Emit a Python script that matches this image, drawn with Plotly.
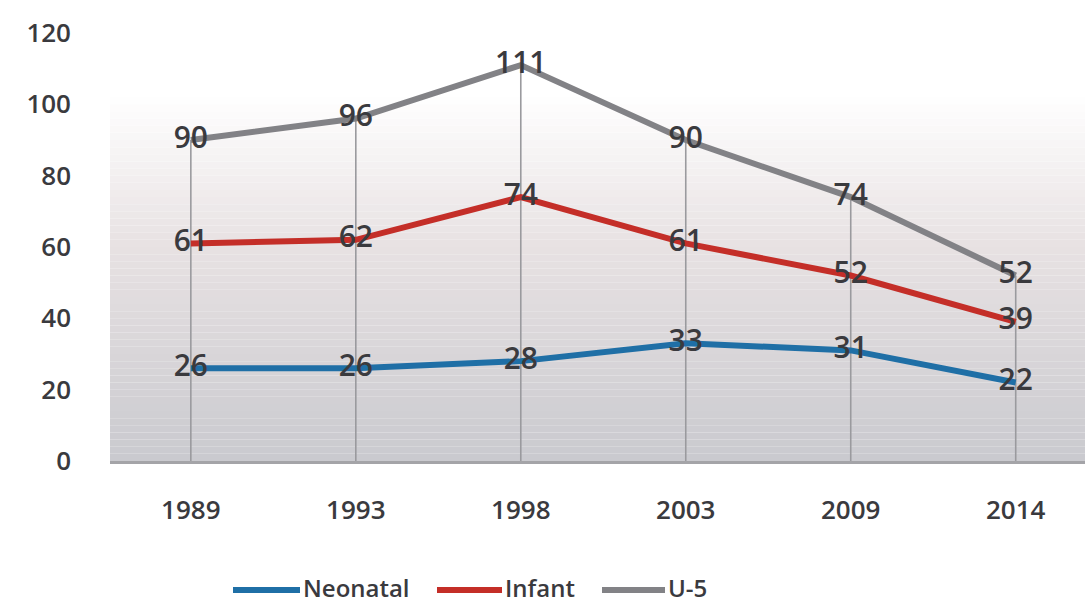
import plotly.graph_objects as go

# Mortality rates per 1,000 live births by survey year
years = ["1989", "1993", "1998", "2003", "2009", "2014"]
neonatal = [26, 26, 28, 33, 31, 22]
infant = [61, 62, 74, 61, 52, 39]
under5 = [90, 96, 111, 90, 74, 52]

series_names = ["Neonatal", "Infant", "U-5"]
series_values = [neonatal, infant, under5]
series_colors = ["#1f6fa6", "#c42e28", "#828286"]

y_ticks = [0, 20, 40, 60, 80, 100, 120]

FONT = "Open Sans, sans-serif"
TEXT_COLOR = "#3a3a3e"

fig = go.Figure()

# Vertical drop lines from the highest point of each year down to the axis
drop_x, drop_y = [], []
for i, yr in enumerate(years):
    top = max(v[i] for v in series_values)
    drop_x += [yr, yr, None]
    drop_y += [0, top, None]
fig.add_trace(go.Scatter(x=drop_x, y=drop_y, mode="lines",
                         line=dict(color="#9a9a9e", width=1.6),
                         hoverinfo="skip", showlegend=False))

# Series lines
for name, vals, col in zip(series_names, series_values, series_colors):
    fig.add_trace(go.Scatter(x=years, y=vals, mode="lines", name=name,
                             line=dict(color=col, width=6),
                             showlegend=False))

# Value labels drawn on top of every line
for name, vals in zip(series_names, series_values):
    fig.add_trace(go.Scatter(x=years, y=vals, mode="text",
                             text=[str(v) for v in vals],
                             textposition="middle center",
                             textfont=dict(family=FONT, size=30, weight=600,
                                           color=TEXT_COLOR),
                             hoverinfo="skip", showlegend=False))

# Vertical gradient behind the plot: white at the top, grey at the bottom
shapes = []
n = 60
top_rgb = (255, 255, 255)
mid_rgb = (232, 226, 227)
bot_rgb = (202, 202, 207)
for k in range(n):
    t = k / n  # 0 at bottom
    y0 = 120 * k / n
    y1 = 120 * (k + 1) / n
    if t < 0.5:
        f = t / 0.5
        c = [bot_rgb[j] + (mid_rgb[j] - bot_rgb[j]) * f for j in range(3)]
    else:
        f = min(1.0, (t - 0.5) / 0.35)
        c = [mid_rgb[j] + (top_rgb[j] - mid_rgb[j]) * f for j in range(3)]
    shapes.append(dict(type="rect", xref="paper", yref="y", layer="below",
                       x0=0, x1=1, y0=y0, y1=y1, line=dict(width=0),
                       fillcolor="rgb(%d,%d,%d)" % tuple(int(round(v)) for v in c)))

# Custom legend below the chart
PX_L, PX_W = 110, 975
PY_B, PY_H = 461, 428


def px_x(p):
    return (p - PX_L) / PX_W


def px_y(p):
    return (PY_B - p) / PY_H


legend_pos = [(233, 300), (437, 502), (602, 665)]
annotations = []
for (x0, x1), name, col in zip(legend_pos, series_names, series_colors):
    shapes.append(dict(type="line", xref="paper", yref="paper",
                       x0=px_x(x0), x1=px_x(x1), y0=px_y(590), y1=px_y(590),
                       line=dict(color=col, width=6)))
    annotations.append(dict(xref="paper", yref="paper", x=px_x(x1 + 1), y=px_y(587),
                            xanchor="left", yanchor="middle", showarrow=False,
                            text=name,
                            font=dict(family=FONT, size=24, weight=600, color=TEXT_COLOR)))

fig.update_layout(
    width=1085, height=605,
    margin=dict(l=110, r=0, t=33, b=144),
    paper_bgcolor="white",
    plot_bgcolor="rgba(0,0,0,0)",
    shapes=shapes,
    annotations=annotations,
    showlegend=False,
    xaxis=dict(type="category", range=[-0.49, 5.42], showgrid=False,
               showline=True, linecolor="#a4a4a8", linewidth=2.5,
               ticks="", ticklabelstandoff=24, zeroline=False,
               tickfont=dict(family=FONT, size=26, weight=600, color=TEXT_COLOR)),
    yaxis=dict(range=[0, 120], tickvals=y_ticks, showgrid=False,
               showline=False, zeroline=False, ticks="",
               ticklabelstandoff=38,
               tickfont=dict(family=FONT, size=26, weight=600, color=TEXT_COLOR)),
)

fig.write_html("out.html")
